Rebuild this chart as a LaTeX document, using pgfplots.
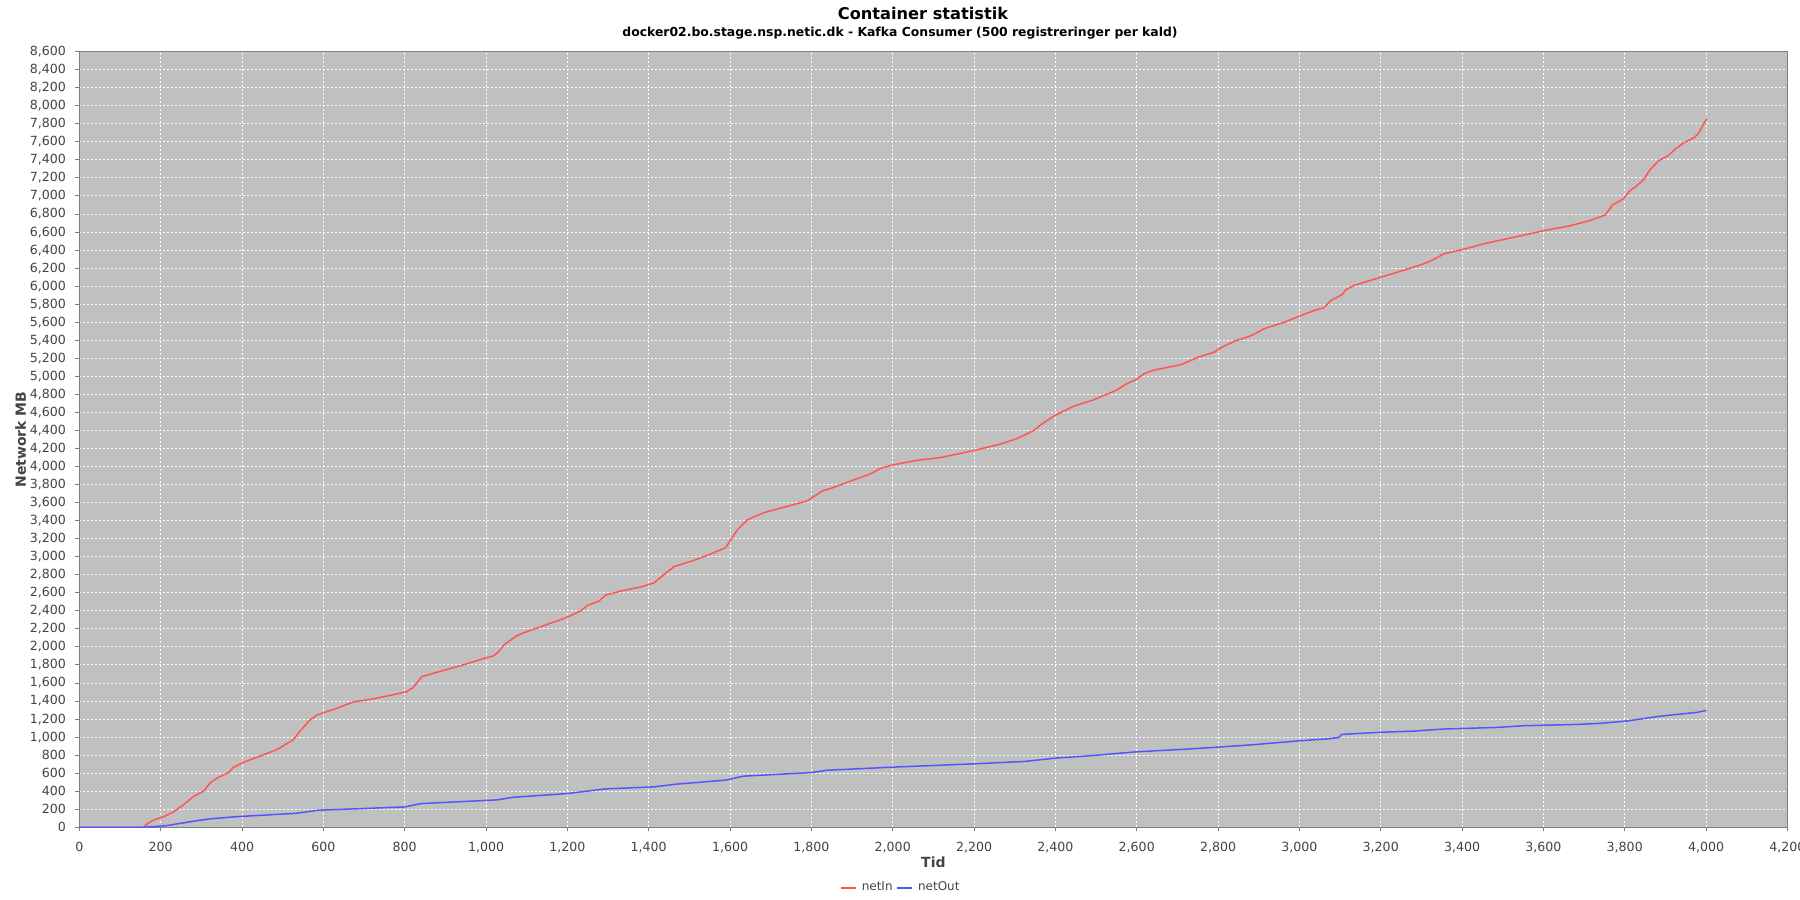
\documentclass[border=0pt]{standalone}
\usepackage{fontspec}
\setmainfont{DejaVu Sans}
\usepackage{pgfplots}
\pgfplotsset{compat=1.18}
\definecolor{plotbg}{HTML}{C0C0C0}
\definecolor{netin}{HTML}{FF5555}
\definecolor{netout}{HTML}{5555FF}
\definecolor{txt}{HTML}{444444}
\definecolor{frm}{HTML}{808080}
\begin{document}
\begin{tikzpicture}[x=1pt,y=1pt]
\path[use as bounding box] (0pt,0pt) rectangle (900pt,450pt);
\node[font=\bfseries\fontsize{8.1}{10}\selectfont, text=black] at (461.5pt,443.1pt) {Container statistik};
\node[font=\bfseries\fontsize{6.2}{7}\selectfont, text=black] at (450pt,433.5pt) {docker02.bo.stage.nsp.netic.dk - Kafka Consumer (500 registreringer per kald)};
\begin{axis}[
  at={(39.7pt,36.35pt)}, anchor=south west,
  scale only axis, width=854pt, height=387.8pt,
  xmin=0, xmax=4200, ymin=0, ymax=8600,
  xtick distance=200, ytick distance=200,
  scaled ticks=false,
  /pgf/number format/.cd, 1000 sep={,}, assume math mode=true, /pgfplots/.cd,
  axis background/.style={fill=plotbg},
  grid=major,
  major grid style={white, dash pattern=on 1pt off 1pt, line width=0.5pt},
  axis line style={frm, line width=0.5pt},
  tick style={frm, line width=0.5pt},
  tick align=outside, major tick length=2pt,
  xtick pos=bottom, ytick pos=left,
  ticklabel style={font=\fontsize{6.3}{7}\selectfont, text=txt},
  yticklabel style={xshift=-1.2pt},
  xticklabel style={yshift=-2.1pt},
  xlabel={\bfseries Tid},
  ylabel={\bfseries Network MB},
  label style={font=\fontsize{7}{8}\selectfont, text=txt},
  xlabel style={at={(axis description cs:0.5,-0.04475)}, anchor=center},
  ylabel style={at={(axis description cs:-0.0344,0.5)}, anchor=center},
  legend columns=-1,
  legend style={at={(axis description cs:0.4804,-0.0783)}, anchor=center, draw=none, fill=none,
    font=\fontsize{6}{7}\selectfont, text=txt, inner sep=0pt, nodes={inner sep=0pt},
    /tikz/every even column/.append style={column sep=2pt},
    /tikz/every odd column/.append style={column sep=2.5pt}},
  legend image code/.code={\draw[#1] (0pt,0pt) -- (7.5pt,0pt);},
]
\addplot[netin, line width=0.75pt] table {
0 0
100 0
157 0
166 35
182 80
206 115
231 170
256 250
280 340
305 400
321 490
338 545
366 605
379 665
403 720
436 775
485 860
526 970
543 1070
567 1190
584 1245
633 1320
674 1390
723 1425
772 1470
805 1505
821 1550
842 1670
887 1730
936 1790
993 1870
1018 1900
1029 1940
1045 2025
1074 2120
1094 2160
1151 2250
1200 2330
1233 2400
1249 2460
1278 2510
1294 2575
1331 2620
1380 2665
1413 2710
1434 2790
1462 2890
1511 2960
1552 3030
1589 3100
1602 3190
1618 3300
1643 3410
1684 3490
1725 3540
1774 3600
1790 3620
1807 3670
1827 3730
1856 3770
1897 3840
1946 3920
1970 3980
2002 4020
2061 4070
2118 4100
2202 4180
2265 4250
2306 4310
2347 4400
2363 4460
2396 4560
2445 4670
2494 4740
2552 4850
2572 4910
2600 4970
2618 5030
2643 5070
2709 5130
2750 5210
2791 5270
2808 5320
2840 5390
2881 5450
2914 5530
2963 5600
3001 5670
3036 5730
3060 5760
3077 5840
3106 5910
3114 5960
3135 6010
3201 6100
3266 6190
3307 6250
3327 6290
3356 6360
3405 6410
3453 6470
3535 6550
3600 6615
3666 6670
3716 6730
3752 6790
3770 6900
3797 6970
3813 7060
3826 7100
3846 7180
3862 7290
3883 7390
3908 7450
3924 7520
3945 7590
3972 7650
3982 7700
4002 7860
};
\addlegendentry{netIn}
\addplot[netout, line width=0.75pt] table {
0 0
157 0
213 18
280 67
320 93
387 118
533 155
587 189
800 226
840 263
1027 304
1067 333
1200 374
1293 426
1413 448
1467 478
1587 522
1633 567
1800 607
1840 633
2000 667
2200 704
2324 730
2400 767
2484 793
2599 837
2724 867
2800 889
2884 915
3000 959
3071 981
3097 996
3104 1030
3191 1052
3284 1067
3351 1089
3484 1107
3551 1126
3684 1141
3737 1152
3804 1178
3884 1230
3937 1256
3977 1274
4001 1296
};
\addlegendentry{netOut}
\end{axis}
\end{tikzpicture}
\end{document}
